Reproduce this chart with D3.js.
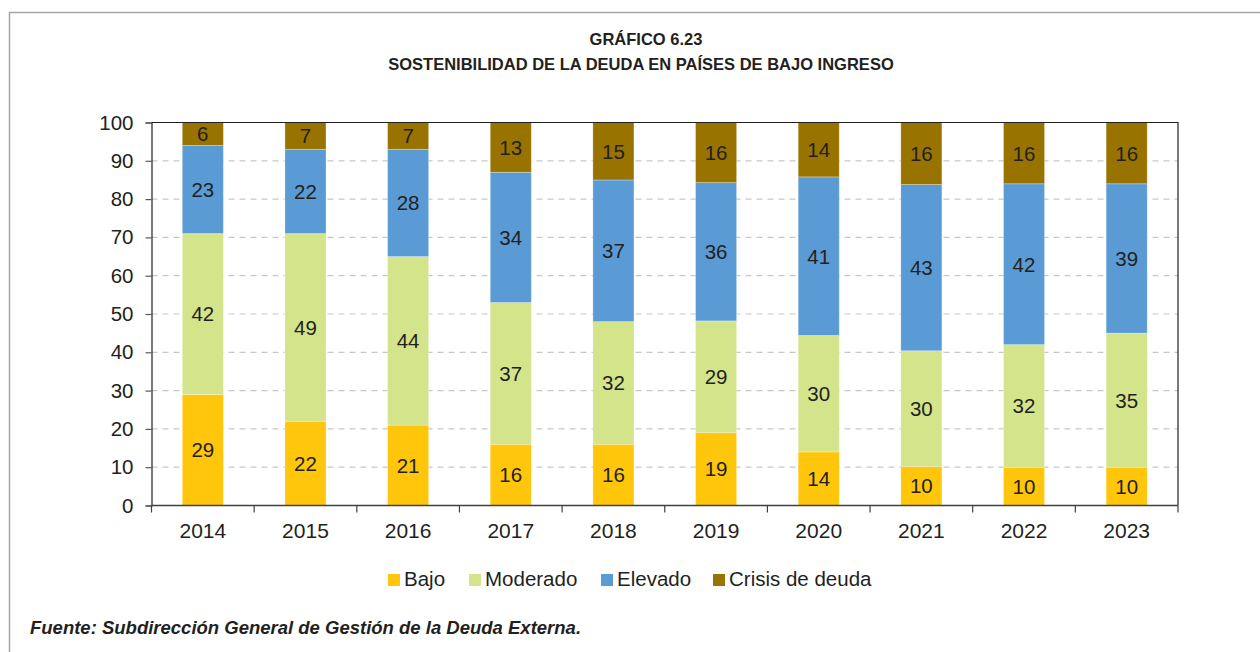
<!DOCTYPE html>
<html>
<head>
<meta charset="utf-8">
<script src="https://cdnjs.cloudflare.com/ajax/libs/d3/7.8.5/d3.min.js"></script>
<style>
    body { margin: 0; background: #fff; }
    svg { display: block; font-family: "Liberation Sans", Arial, sans-serif; }
</style>
</head>
<body>
<script>
// chart data
var years = ['2014', '2015', '2016', '2017', '2018', '2019', '2020', '2021', '2022', '2023'];
var seriesNames = ['Bajo', 'Moderado', 'Elevado', 'Crisis de deuda'];
var bajo     = [29, 22, 21, 16, 16, 19, 14.0, 10.2, 10, 10];
var moderado = [42, 49, 44, 37, 32, 29.2, 30.4, 30.2, 32, 35];
var elevado  = [23, 22, 28, 34, 37, 36.1, 41.4, 43.4, 42, 39];
var crisis   = [6, 7, 7, 13, 15, 15.7, 14.2, 16.2, 16, 16];
var yTicks = [0, 10, 20, 30, 40, 50, 60, 70, 80, 90, 100];
var colors = ['#ffc60b', '#d4e48a', '#5b9bd5', '#997300'];

var width = 1260, height = 652;
var margin = { top: 122.5, right: 82, bottom: 146.5, left: 151.5 };
var w = width - margin.left - margin.right,
    h = height - margin.top - margin.bottom;

var svg = d3.select('body').append('svg')
    .attr('width', width)
    .attr('height', height);

// outer frame (only top and left edges show)
svg.append('path')
    .attr('d', 'M9.5,' + height + 'V12.5H' + width)
    .attr('fill', 'none')
    .attr('stroke', '#a6a6a6')
    .attr('stroke-width', 1.5);

// titles
svg.append('text')
    .attr('x', 646).attr('y', 45)
    .attr('text-anchor', 'middle')
    .style('font-size', '16.5px').style('font-weight', 'bold')
    .attr('fill', '#231f20')
    .text('GRÁFICO 6.23');
svg.append('text')
    .attr('x', 641).attr('y', 70)
    .attr('text-anchor', 'middle')
    .style('font-size', '16.5px').style('font-weight', 'bold')
    .attr('fill', '#231f20')
    .text('SOSTENIBILIDAD DE LA DEUDA EN PAÍSES DE BAJO INGRESO');

var g = svg.append('g')
    .attr('transform', 'translate(' + margin.left + ',' + margin.top + ')');

var x = d3.scaleBand().domain(years).range([0, w]).paddingInner(0.6).paddingOuter(0.3);
var xb = d3.scaleBand().domain(years).range([0, w]);
var y = d3.scaleLinear().domain([0, 100]).range([h, 0]);

// dashed grid
g.append('g')
    .selectAll('line')
    .data(yTicks.filter(function(d) { return d > 0 && d < 100; }))
    .join('line')
    .attr('x1', 0).attr('x2', w)
    .attr('y1', function(d) { return y(d); })
    .attr('y2', function(d) { return y(d); })
    .attr('stroke', '#c8c8c8')
    .attr('stroke-width', 1.2)
    .attr('stroke-dasharray', '6,5');

// stacked bars
var rows = years.map(function(yr, i) {
    return { year: yr, Bajo: bajo[i], Moderado: moderado[i], Elevado: elevado[i], 'Crisis de deuda': crisis[i] };
});
var stacked = d3.stack().keys(seriesNames)(rows);

var layers = g.append('g')
    .selectAll('g')
    .data(stacked)
    .join('g')
    .attr('fill', function(d, i) { return colors[i]; });

layers.selectAll('rect')
    .data(function(d) { return d; })
    .join('rect')
    .attr('x', function(d) { return x(d.data.year); })
    .attr('width', x.bandwidth())
    .attr('y', function(d) { return y(d[1]); })
    .attr('height', function(d) { return y(d[0]) - y(d[1]); })
    .attr('stroke', 'rgba(255,255,255,0.35)')
    .attr('stroke-width', 0.8);

layers.selectAll('text')
    .data(function(d) { return d; })
    .join('text')
    .attr('x', function(d) { return x(d.data.year) + x.bandwidth() / 2; })
    .attr('y', function(d) { return (y(d[0]) + y(d[1])) / 2; })
    .attr('dy', '0.36em')
    .attr('text-anchor', 'middle')
    .attr('fill', '#231f20')
    .style('font-size', '20.5px')
    .text(function(d) { return Math.round(d[1] - d[0]); });

// frame of the plot area
g.append('path')
    .attr('d', 'M0,0H' + w + 'V' + h)
    .attr('fill', 'none')
    .attr('stroke', '#231f20')
    .attr('stroke-width', 1.2);

// y axis
var yAxis = g.append('g')
    .call(d3.axisLeft(y).tickValues(yTicks).tickSize(6).tickPadding(12));
yAxis.select('.domain').attr('stroke', '#231f20').attr('stroke-width', 1.2);
yAxis.selectAll('.tick line').attr('stroke', '#595959').attr('stroke-width', 1.2);
yAxis.selectAll('text').style('font-size', '20.5px').attr('fill', '#231f20')
    .style('font-family', '"Liberation Sans", Arial, sans-serif');

// x axis with ticks between categories
var xAxis = g.append('g')
    .attr('transform', 'translate(0,' + h + ')');
xAxis.append('line')
    .attr('x1', 0).attr('x2', w)
    .attr('stroke', '#404040').attr('stroke-width', 1.5);
xAxis.selectAll('line.sep')
    .data(years.concat(['end']))
    .join('line')
    .attr('class', 'sep')
    .attr('x1', function(d, i) { return i * xb.step(); })
    .attr('x2', function(d, i) { return i * xb.step(); })
    .attr('y1', 0).attr('y2', 7)
    .attr('stroke', '#404040').attr('stroke-width', 1.2);
xAxis.selectAll('text')
    .data(years)
    .join('text')
    .attr('x', function(d) { return xb(d) + xb.bandwidth() / 2; })
    .attr('y', 32)
    .attr('text-anchor', 'middle')
    .attr('fill', '#231f20')
    .style('font-size', '21px')
    .text(function(d) { return d; });

// legend
var legendX = [388, 469, 601, 713];
var legend = svg.append('g')
    .selectAll('g')
    .data(seriesNames)
    .join('g')
    .attr('transform', function(d, i) { return 'translate(' + legendX[i] + ',574)'; });
legend.append('rect')
    .attr('width', 12).attr('height', 12)
    .attr('fill', function(d, i) { return colors[i]; });
legend.append('text')
    .attr('x', 16).attr('y', 12)
    .attr('fill', '#231f20')
    .style('font-size', '20.5px')
    .text(function(d) { return d; });

// source note
svg.append('text')
    .attr('x', 30).attr('y', 634)
    .attr('fill', '#231f20')
    .style('font-size', '18.5px')
    .style('font-weight', 'bold')
    .style('font-style', 'italic')
    .text('Fuente: Subdirección General de Gestión de la Deuda Externa.');
</script>
</body>
</html>
